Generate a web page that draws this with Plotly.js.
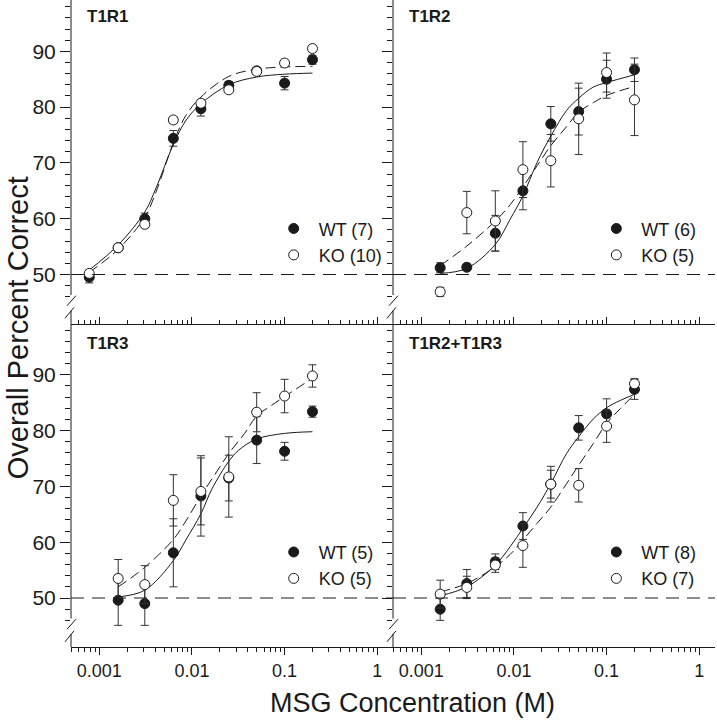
<!DOCTYPE html>
<html><head><meta charset="utf-8">
<script src="https://cdn.plot.ly/plotly-3.0.1.min.js"></script>
<style>html,body{margin:0;padding:0;background:#fff}#plot{width:717px;height:720px}</style>
</head><body><div id="plot"></div>
<script>
// ---- data ----
const conc9 = [0.00078, 0.0016, 0.0031, 0.0063, 0.0125, 0.025, 0.05, 0.1, 0.2];
const conc8 = [0.0016, 0.0031, 0.0063, 0.0125, 0.025, 0.05, 0.1, 0.2];

const t1r1Wt = [49.5, 54.8, 60.0, 74.4, 79.7, 83.9, 86.5, 84.3, 88.5];
const t1r1WtErr = [1.0, 0.6, 1.0, 1.4, 1.3, 0.7, 0.6, 1.2, 0.8];
const t1r1Ko = [50.2, 54.8, 59.0, 77.7, 80.7, 83.1, 86.4, 87.9, 90.5];
const t1r1KoErr = [0.6, 0.6, 0.6, 0.6, 0.6, 0.5, 0.5, 0.5, 0.5];
const t1r1CurveX = [0.00078, 0.0016, 0.0031, 0.0041, 0.0063, 0.0086, 0.0125, 0.025, 0.05, 0.1, 0.2];
const t1r1WtFit = [50.8, 55.3, 61.2, 65.5, 73.3, 77.6, 80.6, 84.0, 85.4, 85.9, 86.1];
const t1r1KoFit = [50.4, 54.5, 60.3, 64.8, 73.6, 78.5, 81.8, 85.5, 86.8, 87.2, 87.3];

const t1r2Wt = [51.2, 51.3, 57.4, 65.0, 77.0, 79.2, 85.0, 86.7];
const t1r2WtErr = [0.9, 0.6, 3.2, 3.4, 3.1, 4.2, 3.4, 2.1];
const t1r2Ko = [46.9, 61.1, 59.6, 68.8, 70.4, 77.9, 86.2, 81.3];
const t1r2KoErr = [0.8, 3.8, 5.4, 5.0, 4.7, 6.4, 3.5, 6.4];
const t1r2CurveX = [0.0016, 0.0031, 0.0063, 0.0091, 0.0125, 0.0178, 0.025, 0.037, 0.05, 0.072, 0.1, 0.2];
const t1r2WtFit = [50.2, 51.1, 55.4, 59.9, 64.1, 70.1, 74.8, 79.4, 81.6, 83.6, 84.4, 85.8];
const t1r2KoFit = [51.6, 55.1, 59.6, 62.5, 65.7, 69.5, 73.1, 76.5, 79.1, 80.8, 82.1, 83.7];

const t1r3Wt = [49.6, 49.0, 58.1, 68.3, 71.5, 78.3, 76.3, 83.4];
const t1r3WtErr = [4.5, 3.9, 6.1, 7.2, 4.1, 4.2, 1.6, 1.0];
const t1r3Ko = [53.5, 52.4, 67.5, 69.1, 71.7, 83.3, 86.2, 89.8];
const t1r3KoErr = [3.4, 3.4, 4.6, 6.0, 7.2, 3.5, 3.0, 2.0];
const t1r3CurveX = [0.0016, 0.0031, 0.0063, 0.0086, 0.0125, 0.0165, 0.025, 0.032, 0.05, 0.1, 0.2];
const t1r3WtFit = [50.2, 51.4, 56.7, 60.4, 65.1, 69.6, 74.5, 76.5, 78.5, 79.5, 79.8];
const t1r3KoCurveX = [0.0016, 0.0031, 0.0063, 0.0086, 0.0125, 0.0178, 0.025, 0.037, 0.05, 0.072, 0.1, 0.2];
const t1r3KoFit = [52.0, 55.5, 60.5, 63.8, 68.3, 72.2, 75.9, 79.5, 82.6, 84.5, 86.1, 89.4];

const t1r23Wt = [48.0, 52.6, 56.5, 62.9, 70.4, 80.5, 83.0, 87.4];
const t1r23WtErr = [2.0, 2.5, 1.4, 2.4, 3.2, 2.2, 2.7, 1.8];
const t1r23Ko = [50.7, 51.9, 55.9, 59.4, 70.4, 70.2, 80.8, 88.4];
const t1r23KoErr = [2.5, 2.0, 1.3, 3.9, 2.5, 3.0, 2.9, 0.9];
const t1r23CurveX = [0.0016, 0.0031, 0.0063, 0.0091, 0.0125, 0.0178, 0.025, 0.037, 0.05, 0.072, 0.1, 0.14, 0.2];
const t1r23WtFit = [50.4, 52.0, 55.9, 59.2, 62.5, 66.3, 70.5, 75.9, 78.9, 82.1, 84.1, 85.4, 86.5];
const t1r23KoFit = [51.1, 52.6, 55.6, 57.8, 60.4, 63.4, 66.3, 70.5, 73.8, 77.7, 81.3, 83.9, 86.5];

const panelNames = ['T1R1', 'T1R2', 'T1R3', 'T1R2+T1R3'];
const wtLabels = ['WT (7)', 'WT (6)', 'WT (5)', 'WT (8)'];
const koLabels = ['KO (10)', 'KO (5)', 'KO (5)', 'KO (7)'];

const xTickVals = [0.001, 0.01, 0.1, 1];
const xTickText = ['0.001', '0.01', '0.1', '1'];
const xMinorVals = [0.0005,0.0006,0.0007,0.0008,0.0009,0.002,0.003,0.004,0.005,0.006,0.007,0.008,0.009,
  0.02,0.03,0.04,0.05,0.06,0.07,0.08,0.09,0.2,0.3,0.4,0.5,0.6,0.7,0.8,0.9];
const yTickVals = [50, 60, 70, 80, 90];
const yMinorVals = [46,48,52,54,56,58,62,64,66,68,72,74,76,78,82,84,86,88,92,94,96,98];

// ---- build ----
const panels = [
  {xa:'x', ya:'y', leg:'legend', conc:conc9, wt:t1r1Wt, wtE:t1r1WtErr, ko:t1r1Ko, koE:t1r1KoErr, cx:t1r1CurveX, wf:t1r1WtFit, kcx:t1r1CurveX, kf:t1r1KoFit},
  {xa:'x2', ya:'y2', leg:'legend2', conc:conc8, wt:t1r2Wt, wtE:t1r2WtErr, ko:t1r2Ko, koE:t1r2KoErr, cx:t1r2CurveX, wf:t1r2WtFit, kcx:t1r2CurveX, kf:t1r2KoFit},
  {xa:'x3', ya:'y3', leg:'legend3', conc:conc8, wt:t1r3Wt, wtE:t1r3WtErr, ko:t1r3Ko, koE:t1r3KoErr, cx:t1r3CurveX, wf:t1r3WtFit, kcx:t1r3KoCurveX, kf:t1r3KoFit},
  {xa:'x4', ya:'y4', leg:'legend4', conc:conc8, wt:t1r23Wt, wtE:t1r23WtErr, ko:t1r23Ko, koE:t1r23KoErr, cx:t1r23CurveX, wf:t1r23WtFit, kcx:t1r23CurveX, kf:t1r23KoFit}
];

const ink = '#1a1a1a';
const FONT = 'Liberation Sans, Arial, sans-serif';
const traces = [];
panels.forEach((p, i) => {
  traces.push({x:p.cx, y:p.wf, xaxis:p.xa, yaxis:p.ya, mode:'lines', line:{color:ink, width:1, shape:'spline', smoothing:1}, showlegend:false, hoverinfo:'skip'});
  traces.push({x:p.kcx, y:p.kf, xaxis:p.xa, yaxis:p.ya, mode:'lines', line:{color:ink, width:1, dash:'10px,5px', shape:'spline', smoothing:1}, showlegend:false, hoverinfo:'skip'});
  traces.push({x:p.conc, y:p.wt, xaxis:p.xa, yaxis:p.ya, mode:'markers', name:wtLabels[i], legend:p.leg,
    marker:{size:10, color:ink, line:{color:ink, width:1}},
    error_y:{type:'data', array:p.wtE, visible:true, color:'#333', thickness:1, width:4}});
  traces.push({x:p.conc, y:p.ko, xaxis:p.xa, yaxis:p.ya, mode:'markers', name:koLabels[i], legend:p.leg,
    marker:{size:10, color:'#fff', line:{color:ink, width:1}},
    error_y:{type:'data', array:p.koE, visible:true, color:'#333', thickness:1, width:4}});
});

const yRange = [41.22, 99.2];
const xRange = [-3.305, 0.17];

function xAxis(dom, anchor, bottom) {
  return {domain:dom, anchor:anchor, type:'log', range:xRange, showline:true, linecolor:ink, linewidth:1,
    showgrid:false, zeroline:false, tickmode:'array', tickvals:xTickVals, ticktext:xTickText,
    ticks: bottom ? 'outside' : 'inside', ticklen:7, tickwidth:1, tickcolor:ink,
    showticklabels: bottom, tickfont:{family:FONT, size:18, color:ink},
    minor:{tickmode:'array', tickvals:xMinorVals, ticks: bottom ? 'outside' : 'inside', ticklen:4, tickwidth:1, tickcolor:ink}};
}
function yAxis(dom, anchor, labels) {
  return {domain:dom, anchor:anchor, range:yRange, showline:false, showgrid:false, zeroline:false,
    tickmode:'array', tickvals:yTickVals, ticks:'outside', ticklen:10, tickwidth:1, tickcolor:ink,
    showticklabels:labels, tickfont:{family:FONT, size:21, color:ink},
    minor:{tickmode:'array', tickvals:yMinorVals, ticks:'outside', ticklen:5, tickwidth:1, tickcolor:ink}};
}

const shapes = [];
const annotations = [];
const axPairs = [['x','y'],['x2','y2'],['x3','y3'],['x4','y4']];
const labelY = [0.95, 0.95, 0.937, 0.937];
axPairs.forEach(([xa, ya], i) => {
  const xd = xa + ' domain', yd = ya + ' domain';
  shapes.push({type:'line', xref:xd, yref:ya, x0:0, x1:1, y0:50, y1:50, line:{color:ink, width:1, dash:'13px,8px'}});
  // y axis line with break
  shapes.push({type:'line', xref:xd, yref:yd, x0:0, x1:0, y0:0.088, y1:1, line:{color:ink, width:1}});
  shapes.push({type:'line', xref:xd, yref:yd, x0:0, x1:0, y0:0, y1:0.04, line:{color:ink, width:1}});
  shapes.push({type:'line', xref:xd, yref:yd, xsizemode:'pixel', xanchor:0, x0:-4, x1:5, y0:0.055, y1:0.086, line:{color:ink, width:1}});
  shapes.push({type:'line', xref:xd, yref:yd, xsizemode:'pixel', xanchor:0, x0:-6, x1:3, y0:0.016, y1:0.05, line:{color:ink, width:1}});
  annotations.push({xref:xd, yref:yd, x:0.042, y:labelY[i], xanchor:'left', yanchor:'middle', showarrow:false,
    text:'<b>' + panelNames[i] + '</b>', font:{family:FONT, size:17, color:ink}});
});
annotations.push({xref:'paper', yref:'paper', x:-0.082, y:0.493, textangle:-90, showarrow:false, xanchor:'center', yanchor:'middle',
  text:'Overall Percent Correct', font:{family:FONT, size:29, color:ink}});
annotations.push({xref:'paper', yref:'paper', x:0.531, y:-0.0866, showarrow:false, xanchor:'center', yanchor:'middle',
  text:'MSG Concentration (M)', font:{family:FONT, size:27, color:ink}});

const legBase = {bgcolor:'rgba(0,0,0,0)', borderwidth:0, font:{family:FONT, size:18, color:ink}, itemwidth:40, xanchor:'left', yanchor:'top', tracegroupgap:0};
const layout = {
  width:717, height:720, margin:{l:71, r:2, t:0, b:73}, paper_bgcolor:'#fff', plot_bgcolor:'rgba(0,0,0,0)',
  showlegend:true,
  xaxis: xAxis([0,0.5], 'y', false),
  yaxis: yAxis([0.5,1], 'x', true),
  xaxis2: xAxis([0.5,1], 'y2', false),
  yaxis2: yAxis([0.5,1], 'x2', false),
  xaxis3: xAxis([0,0.5], 'y3', true),
  yaxis3: yAxis([0,0.5], 'x3', true),
  xaxis4: xAxis([0.5,1], 'y4', true),
  yaxis4: yAxis([0,0.5], 'x4', false),
  legend: Object.assign({}, legBase, {x:0.307, y:0.675}),
  legend2: Object.assign({}, legBase, {x:0.808, y:0.675}),
  legend3: Object.assign({}, legBase, {x:0.307, y:0.175}),
  legend4: Object.assign({}, legBase, {x:0.808, y:0.175}),
  shapes: shapes, annotations: annotations
};
Plotly.newPlot('plot', traces, layout, {displayModeBar:false, staticPlot:true});
</script></body></html>
